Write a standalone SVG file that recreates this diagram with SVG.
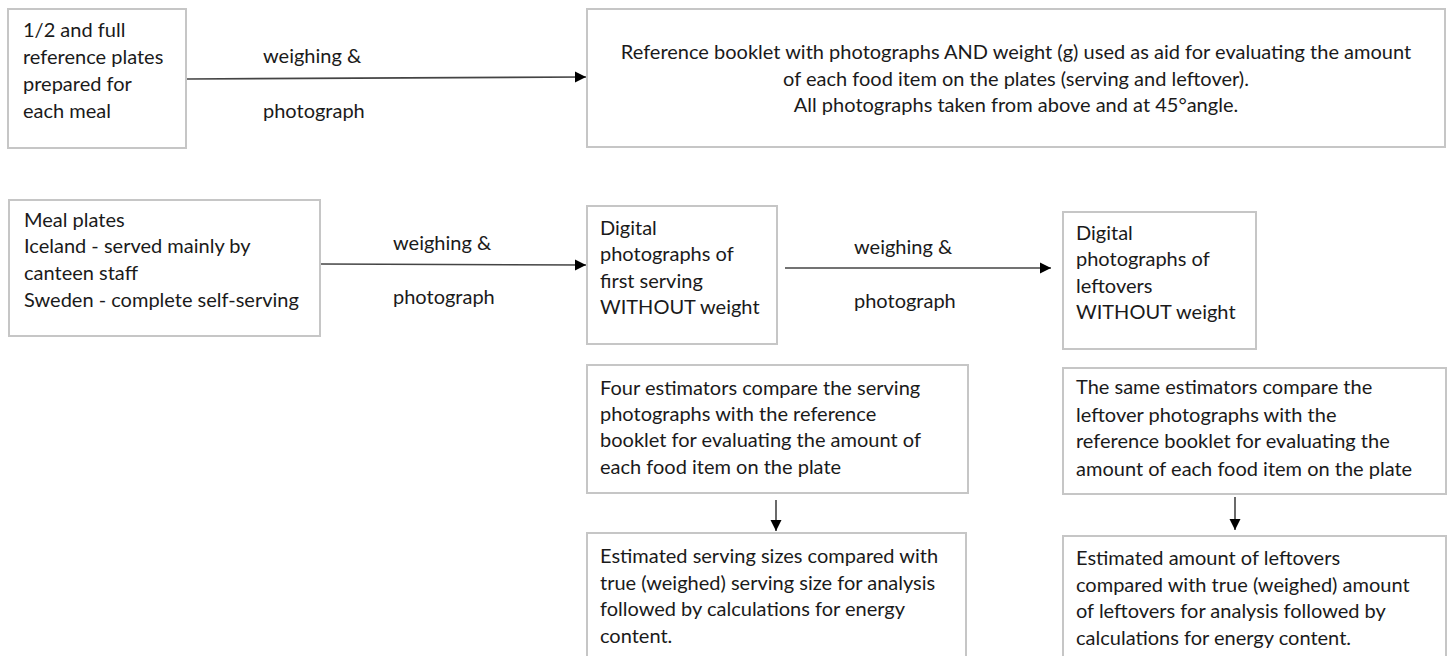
<svg xmlns="http://www.w3.org/2000/svg" width="1448" height="656" viewBox="0 0 1448 656">
<defs>
<style>
.box{fill:#fff;stroke:#c6c6c6;stroke-width:2}
text{font-family:Lato,"Open Sans",sans-serif;font-size:20px;fill:#1a1a1a}
.c{text-anchor:middle}
.ln{stroke:#444;stroke-width:1.6;fill:none}
</style>
<marker id="ah" markerWidth="12" markerHeight="12" refX="11" refY="6" orient="auto" markerUnits="userSpaceOnUse">
<path d="M0,0.5 L11,6 L0,11.5 Z" fill="#000"/>
</marker>
</defs>
<rect width="1448" height="656" fill="#fff"/>
<g id="connectors">
<line class="ln" x1="187" y1="79" x2="586" y2="77" marker-end="url(#ah)"/>
<line class="ln" x1="321" y1="264" x2="586" y2="265" marker-end="url(#ah)"/>
<line class="ln" x1="785" y1="268" x2="1051" y2="268" marker-end="url(#ah)"/>
<line class="ln" x1="776" y1="500" x2="776" y2="531" marker-end="url(#ah)"/>
<line class="ln" x1="1235" y1="497" x2="1235" y2="530" marker-end="url(#ah)"/>
<text x="263" y="63">weighing &amp;</text>
<text x="263" y="118">photograph</text>
<text x="393" y="250">weighing &amp;</text>
<text x="393" y="304">photograph</text>
<text x="854" y="254">weighing &amp;</text>
<text x="854" y="308">photograph</text>
</g>
<g id="n1">
<rect class="box" x="8" y="9" width="178" height="139"/>
<text x="23" y="37">1/2 and full</text>
<text x="23" y="64">reference plates</text>
<text x="23" y="91">prepared for</text>
<text x="23" y="118">each meal</text>
</g>
<g id="n2">
<rect class="box" x="587" y="9" width="858" height="138"/>
<text class="c" x="1016" y="59">Reference booklet with photographs AND weight (g) used as aid for evaluating the amount</text>
<text class="c" x="1016" y="86">of each food item on the plates (serving and leftover).</text>
<text class="c" x="1016" y="112">All photographs taken from above and at 45°angle.</text>
</g>
<g id="n3">
<rect class="box" x="9" y="200" width="311" height="136"/>
<text x="24" y="227">Meal plates</text>
<text x="24" y="253">Iceland - served mainly by</text>
<text x="24" y="280">canteen staff</text>
<text x="24" y="307">Sweden - complete self-serving</text>
</g>
<g id="n4">
<rect class="box" x="587" y="206" width="190" height="138"/>
<text x="600" y="235">Digital</text>
<text x="600" y="261">photographs of</text>
<text x="600" y="288">first serving</text>
<text x="600" y="314">WITHOUT weight</text>
</g>
<g id="n5">
<rect class="box" x="1063" y="212" width="193" height="137"/>
<text x="1076" y="240">Digital</text>
<text x="1076" y="266">photographs of</text>
<text x="1076" y="293">leftovers</text>
<text x="1076" y="319">WITHOUT weight</text>
</g>
<g id="n6">
<rect class="box" x="587" y="365" width="381" height="128"/>
<text x="600" y="395">Four estimators compare the serving</text>
<text x="600" y="421">photographs with the reference</text>
<text x="600" y="447">booklet for evaluating the amount of</text>
<text x="600" y="474">each food item on the plate</text>
</g>
<g id="n7">
<rect class="box" x="587" y="533" width="379" height="130"/>
<text x="600" y="563">Estimated serving sizes compared with</text>
<text x="600" y="590">true (weighed) serving size for analysis</text>
<text x="600" y="616">followed by calculations for energy</text>
<text x="600" y="643">content.</text>
</g>
<g id="n8">
<rect class="box" x="1063" y="368" width="383" height="126"/>
<text x="1076" y="394">The same estimators compare the</text>
<text x="1076" y="422">leftover photographs with the</text>
<text x="1076" y="448">reference booklet for evaluating the</text>
<text x="1076" y="476">amount of each food item on the plate</text>
</g>
<g id="n9">
<rect class="box" x="1063" y="536" width="383" height="130"/>
<text x="1076" y="565">Estimated amount of leftovers</text>
<text x="1076" y="592">compared with true (weighed) amount</text>
<text x="1076" y="618">of leftovers for analysis followed by</text>
<text x="1076" y="645">calculations for energy content.</text>
</g>
</svg>
